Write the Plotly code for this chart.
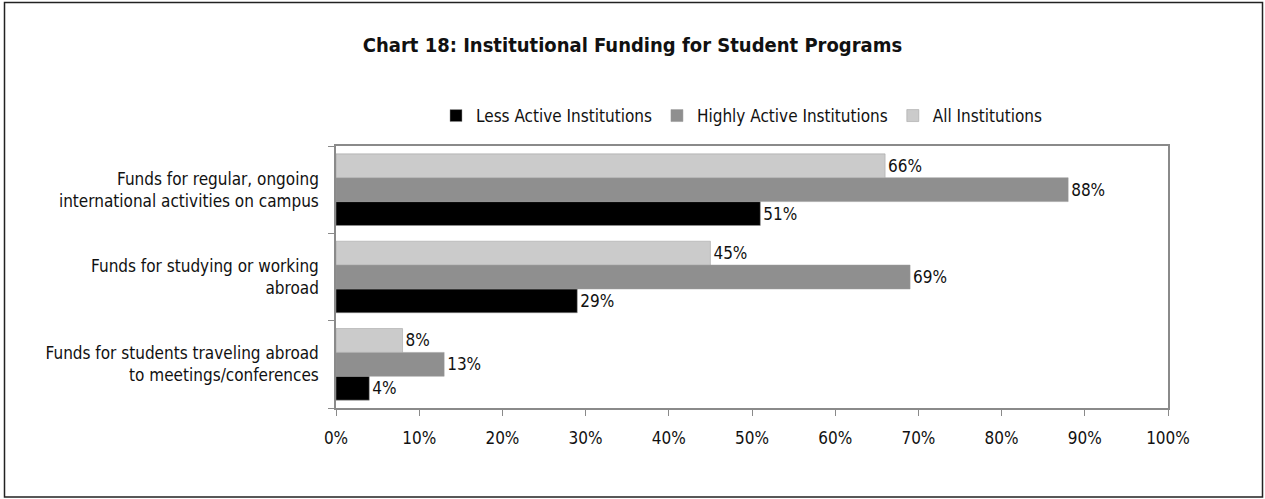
import plotly.graph_objects as go

categories = [
    "Funds for regular, ongoing<br>international activities on campus",
    "Funds for studying or working<br>abroad",
    "Funds for students traveling abroad<br>to meetings/conferences",
]
series_names = ["Less Active Institutions", "Highly Active Institutions", "All Institutions"]
less_active = [51, 29, 4]
highly_active = [88, 69, 13]
all_inst = [66, 45, 8]
x_ticks = [0, 10, 20, 30, 40, 50, 60, 70, 80, 90, 100]
x_tick_labels = [f"{v}%" for v in x_ticks]

FONT = "DejaVu Sans Condensed, Liberation Sans Narrow, sans-serif"
colors = ["#000000", "#8f8f8f", "#cbcbcb"]
FS = 17

fig = go.Figure()
for name, vals, col in zip(series_names, [less_active, highly_active, all_inst], colors):
    fig.add_trace(go.Bar(
        name=name, y=categories, x=vals, orientation="h",
        marker=dict(color=col, line=dict(color="#9a9a9a", width=0.5)),
        text=[f"{v}%" for v in vals], textposition="outside",
        textfont=dict(family=FONT, size=FS, color="#111"),
        cliponaxis=False,
    ))

W, H = 1265, 499
L, R, T, B = 336, 97, 146, 91
pw, ph = W - L - R, H - T - B

def px_x(x):
    return (x - L) / pw

def px_y(y):
    return (H - B - y) / ph

fig.update_layout(
    width=W, height=H,
    margin=dict(l=L, r=R, t=T, b=B),
    paper_bgcolor="white", plot_bgcolor="white",
    barmode="group", bargap=0.18, bargroupgap=0,
    font=dict(family=FONT, size=FS, color="#111"),
    title=dict(text="<b>Chart 18: Institutional Funding for Student Programs</b>",
               x=0.5, xref="container", xanchor="center", y=1 - 45 / H, yanchor="middle",
               font=dict(family=FONT, size=20, color="#111")),
    legend=dict(orientation="h", x=px_x(742), xanchor="center", y=px_y(116), yanchor="middle",
                font=dict(family=FONT, size=FS), traceorder="normal",
                itemwidth=30, tracegroupgap=0, bgcolor="rgba(0,0,0,0)"),
    showlegend=True,
    xaxis=dict(range=[0, 100], tickvals=x_ticks, ticktext=x_tick_labels,
               showgrid=False, zeroline=False, showline=True, linecolor="#8a8a8a",
               linewidth=1.5, mirror=True, ticks="outside", ticklen=6, tickcolor="#8a8a8a",
               ticklabelstandoff=8, tickfont=dict(size=FS)),
    yaxis=dict(categoryorder="array", categoryarray=categories[::-1],
               showgrid=False, zeroline=False, showline=True, linecolor="#8a8a8a",
               linewidth=1.5, mirror=True, ticks="outside", ticklen=6, tickcolor="#8a8a8a",
               tickson="boundaries", ticklabelstandoff=12, tickfont=dict(size=FS)),
    shapes=[dict(type="rect", xref="paper", yref="paper",
                 x0=px_x(4.5), x1=px_x(1262.5), y0=px_y(497), y1=px_y(2.5),
                 line=dict(color="#222", width=1.5), fillcolor="rgba(0,0,0,0)", layer="below")],
)

fig.write_html("out.html", config={"displayModeBar": False},
               post_script="document.body.style.margin='0px';")
